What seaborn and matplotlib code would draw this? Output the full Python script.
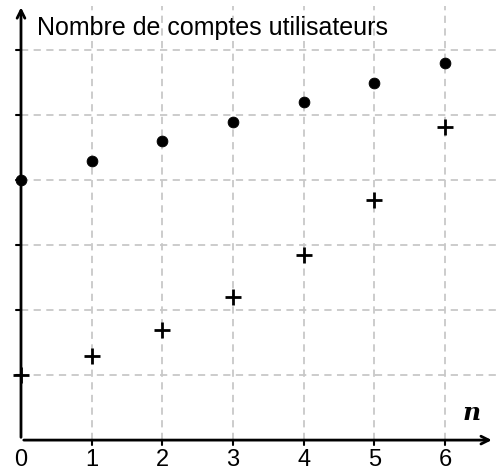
import matplotlib
matplotlib.use('Agg')
import matplotlib.pyplot as plt
import seaborn as sns
import pandas as pd

# data
n_values = [0, 1, 2, 3, 4, 5, 6]
dots = [4.0, 4.3, 4.6, 4.9, 5.2, 5.5, 5.8]
crosses = [1.0, 1.3, 1.7, 2.2, 2.85, 3.7, 4.82]
x_ticks = [0, 1, 2, 3, 4, 5, 6]
y_ticks = [1, 2, 3, 4, 5, 6]
title = 'Nombre de comptes utilisateurs'

sns.set_style('white')
plt.rcParams['font.family'] = ['Liberation Sans', 'DejaVu Sans']

df = pd.DataFrame({'n': n_values, 'dots': dots, 'crosses': crosses})

fig = plt.figure(figsize=(4.96, 4.70), dpi=100)
ax = fig.add_axes([0, 0, 1, 1])
xmin, xmax = -0.297, 6.72
ymin, ymax = -0.46, 6.77

# dashed grid, only in the first quadrant
ax.vlines(x_ticks[1:], 0, 6.68, colors='#c8c8c8', linestyles=(0, (4, 3)), linewidth=1.3, zorder=1)
ax.hlines(y_ticks, 0, xmax, colors='#c8c8c8', linestyles=(0, (4, 3)), linewidth=1.3, zorder=1)

sns.scatterplot(data=df, x='n', y='dots', ax=ax, color='black', s=60, edgecolor='black', zorder=5)
sns.scatterplot(data=df, x='n', y='crosses', ax=ax, color='black', marker='+', s=130,
                linewidth=2, zorder=5)

# axes with arrows
ax.annotate('', xy=(6.70, 0), xytext=(0, 0), annotation_clip=False,
            arrowprops=dict(arrowstyle='->', lw=2, color='black', mutation_scale=14), zorder=4)
ax.annotate('', xy=(0, 6.7), xytext=(0, 0), annotation_clip=False,
            arrowprops=dict(arrowstyle='->', lw=2, color='black', mutation_scale=14), zorder=4)

# tick marks
for t in x_ticks[1:]:
    ax.plot([t, t], [0, -0.07], color='black', lw=1.5, zorder=4)
for t in y_ticks:
    ax.plot([-0.07, 0], [t, t], color='black', lw=1.5, zorder=4)

for t in x_ticks:
    ax.text(t, -0.31, str(t), ha='center', va='center', fontsize=17, color='black')

ax.text(0.23, 6.34, title, ha='left', va='center', fontsize=18, color='black')
ax.text(6.38, 0.42, 'n', ha='center', va='center', fontsize=18, family='DejaVu Serif',
        style='italic', fontweight='bold', color='black')

ax.set_xlim(xmin, xmax)
ax.set_ylim(ymin, ymax)
ax.axis('off')

fig.savefig('out.png', dpi=100)
